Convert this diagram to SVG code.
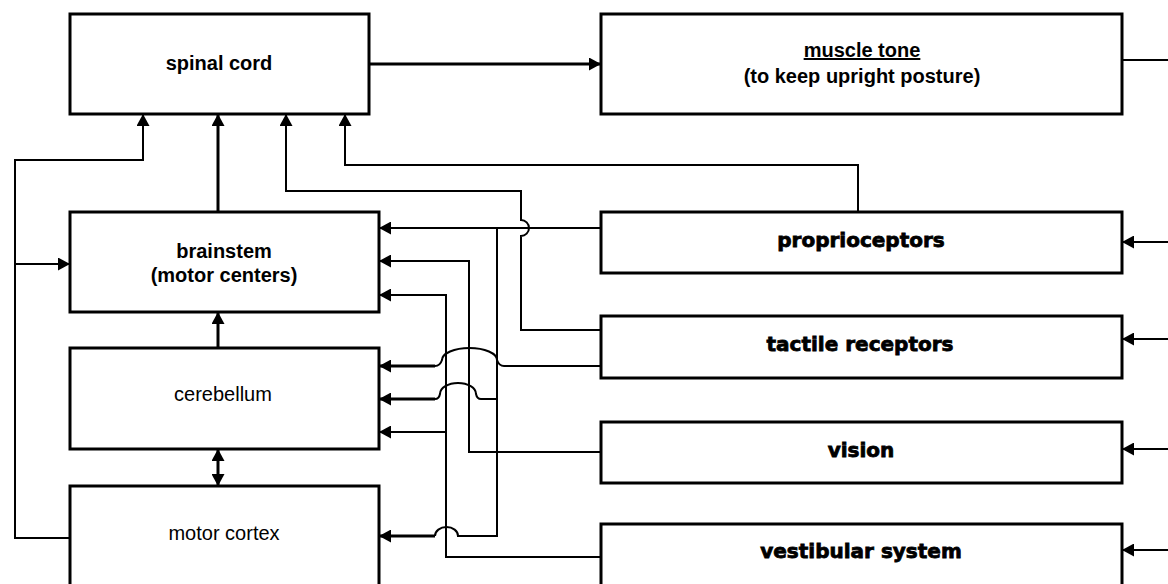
<svg xmlns="http://www.w3.org/2000/svg" width="1168" height="584" viewBox="0 0 1168 584">
<style>
.box{fill:#fff;stroke:#000;stroke-width:3}
.t{font-family:"Liberation Sans",Arial,sans-serif;font-size:20px;text-anchor:middle;fill:#000}
.b{font-weight:bold}
.h{font-family:"DejaVu Sans",sans-serif;font-weight:bold;font-size:20px;text-anchor:middle;fill:#000;stroke:#000;stroke-width:0.8}
.c{fill:none;stroke:#000;stroke-width:2}
.k{fill:none;stroke:#000;stroke-width:3}
.a{marker-end:url(#ah)}
</style>
<defs>
<marker id="ah" markerUnits="userSpaceOnUse" markerWidth="12" markerHeight="13" refX="12" refY="6.5" orient="auto-start-reverse" viewBox="0 0 12 13">
<path d="M0,0 L12,6.5 L0,13 z" fill="#000"/>
</marker>
</defs>
<rect width="1168" height="584" fill="#fff"/>
<g id="connectors">
<path class="k a" d="M369,64 H601"/>
<path class="c" d="M1122,60 H1168"/>
<path class="c a" d="M1168,242 H1122"/>
<path class="c a" d="M1168,339 H1122"/>
<path class="c a" d="M1168,449 H1122"/>
<path class="c a" d="M1168,550 H1122"/>
<path class="c a" d="M858,212 V165 H345 V114"/>
<path class="c a" d="M601,330 H521 V236 A8,8 0 0 0 521,220 V191 H286 V114"/>
<path class="c a" d="M601,228 H379"/>
<path class="c" d="M497,228 V536 H458 A11.5,9 0 0 0 435,536"/>
<path class="k a" d="M435,536 H379"/>
<path class="c" d="M601,366 H504 Q499,366 497,360 A27.5,12 0 0 0 442,360 Q440,366 435,366"/>
<path class="k a" d="M435,366 H379"/>
<path class="c" d="M497,399 H481 Q477,399 476,394 A18,11 0 0 0 440,394 Q439,399 435,399"/>
<path class="k a" d="M435,399 H379"/>
<path class="c a" d="M601,557 H446 V295 H379"/>
<path class="c a" d="M446,432 H379"/>
<path class="c a" d="M601,452 H469 V261 H379"/>
<path class="k a" d="M218,212 V114"/>
<path class="k a" d="M218,348 V312"/>
<path class="k a" d="M218,486 V449" style="marker-start:url(#ah)"/>
<path class="c a" d="M70,538 H15 V160 H143 V114"/>
<path class="c a" d="M15,264 H70"/>
</g>
<g id="spinal-cord">
<rect class="box" x="70" y="14" width="299" height="100"/>
<text class="t b" x="219" y="70">spinal cord</text>
</g>
<g id="muscle-tone">
<rect class="box" x="601" y="14" width="521" height="100"/>
<text class="t b" x="862" y="57" text-decoration="underline">muscle tone</text>
<text class="t b" x="862" y="83">(to keep upright posture)</text>
</g>
<g id="brainstem">
<rect class="box" x="70" y="212" width="309" height="100"/>
<text class="t b" x="224" y="258">brainstem</text>
<text class="t b" x="224" y="282">(motor centers)</text>
</g>
<g id="cerebellum">
<rect class="box" x="70" y="348" width="309" height="101"/>
<text class="t" x="223" y="401">cerebellum</text>
</g>
<g id="motor-cortex">
<rect class="box" x="70" y="486" width="309" height="110"/>
<text class="t" x="224" y="540">motor cortex</text>
</g>
<g id="proprioceptors">
<rect class="box" x="601" y="212" width="521" height="61"/>
<text class="h" x="861" y="247">proprioceptors</text>
</g>
<g id="tactile-receptors">
<rect class="box" x="601" y="316" width="521" height="62"/>
<text class="h" x="860" y="351">tactile receptors</text>
</g>
<g id="vision">
<rect class="box" x="601" y="422" width="521" height="61"/>
<text class="h" x="861" y="457">vision</text>
</g>
<g id="vestibular-system">
<rect class="box" x="601" y="524" width="521" height="80"/>
<text class="h" x="861" y="558">vestibular system</text>
</g>
</svg>
